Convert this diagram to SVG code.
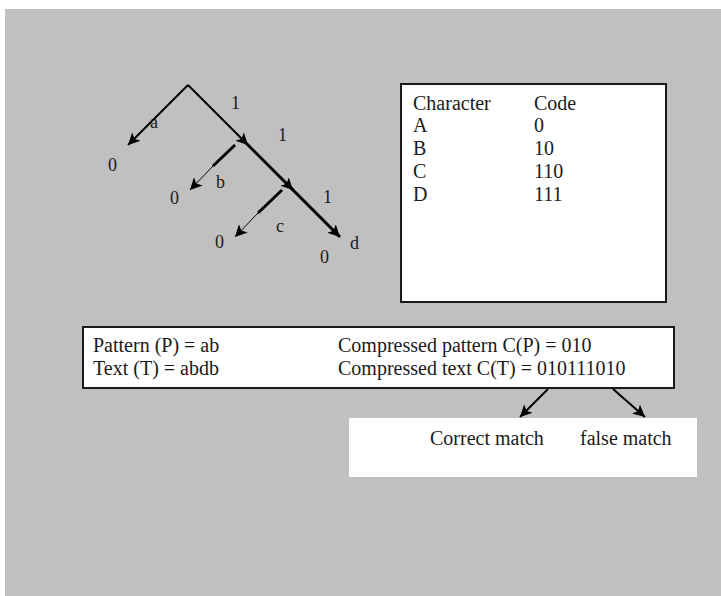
<svg xmlns="http://www.w3.org/2000/svg" width="721" height="596" viewBox="0 0 721 596">
<style>
text{font-family:"Liberation Serif","Times New Roman",serif;fill:#1a1a1a}
.t20{font-size:20px}
.t18{font-size:18px}
.box{fill:#ffffff;stroke:#1a1a1a;stroke-width:2}
.ln{fill:none;stroke:#000;stroke-width:2}
.thk{fill:none;stroke:#000;stroke-width:3}
.thn{fill:none;stroke:#000;stroke-width:1}
</style>
<defs>
<marker id="ah" markerUnits="userSpaceOnUse" markerWidth="14" markerHeight="12" refX="12" refY="6" orient="auto">
<path d="M0,0 L12,6 L0,12 L3,6 Z" fill="#000"/>
</marker>
</defs>
<rect x="0" y="0" width="721" height="596" fill="#ffffff"/>
<rect x="5" y="9" width="716" height="587" fill="#c0c0c0"/>

<g id="tree-labels">
<text class="t18" x="150" y="128">a</text>
<text class="t18" x="108" y="171">0</text>
<text class="t18" x="231" y="109">1</text>
<text class="t18" x="278" y="141">1</text>
<text class="t18" x="170" y="204">0</text>
<text class="t18" x="216" y="188">b</text>
<text class="t18" x="323" y="203">1</text>
<text class="t18" x="215" y="248">0</text>
<text class="t18" x="276" y="232">c</text>
<text class="t18" x="320" y="263">0</text>
<text class="t18" x="350" y="249">d</text>
</g>

<g id="connectors">
<line class="ln" x1="188" y1="85" x2="128" y2="145" marker-end="url(#ah)"/>
<line class="ln" x1="188" y1="85" x2="248" y2="145" marker-end="url(#ah)"/>
<line class="thk" x1="246" y1="143" x2="293" y2="190" marker-end="url(#ah)"/>
<line class="thk" x1="291" y1="188" x2="340" y2="237" marker-end="url(#ah)"/>
<line class="thk" x1="235" y1="145" x2="213" y2="166"/>
<line class="thn" x1="213" y1="166" x2="190" y2="190" marker-end="url(#ah)"/>
<line class="thk" x1="282" y1="190" x2="258" y2="213"/>
<line class="thn" x1="258" y1="213" x2="235" y2="237" marker-end="url(#ah)"/>
<line class="ln" x1="548" y1="389" x2="520" y2="417" marker-end="url(#ah)"/>
<line class="ln" x1="613" y1="389" x2="645" y2="417" marker-end="url(#ah)"/>
</g>

<g id="code-table">
<rect class="box" x="401" y="84" width="265" height="218"/>
<text class="t20" x="413" y="110">Character</text>
<text class="t20" x="534" y="110">Code</text>
<text class="t20" x="413" y="132">A</text>
<text class="t20" x="534" y="132">0</text>
<text class="t20" x="413" y="155">B</text>
<text class="t20" x="534" y="155">10</text>
<text class="t20" x="413" y="178">C</text>
<text class="t20" x="534" y="178">110</text>
<text class="t20" x="413" y="201">D</text>
<text class="t20" x="534" y="201">111</text>
</g>

<g id="pattern-box">
<rect class="box" x="83" y="327" width="591" height="61"/>
<text class="t20" x="93" y="352">Pattern (P) = ab</text>
<text class="t20" x="93" y="375">Text (T) = abdb</text>
<text class="t20" x="338" y="352">Compressed pattern C(P) = 010</text>
<text class="t20" x="338" y="375">Compressed text C(T) = 010111010</text>
</g>

<g id="result-box">
<rect x="349" y="418" width="348" height="59" fill="#ffffff"/>
<text class="t20" x="430" y="445">Correct match</text>
<text class="t20" x="580" y="445">false match</text>
</g>
</svg>
